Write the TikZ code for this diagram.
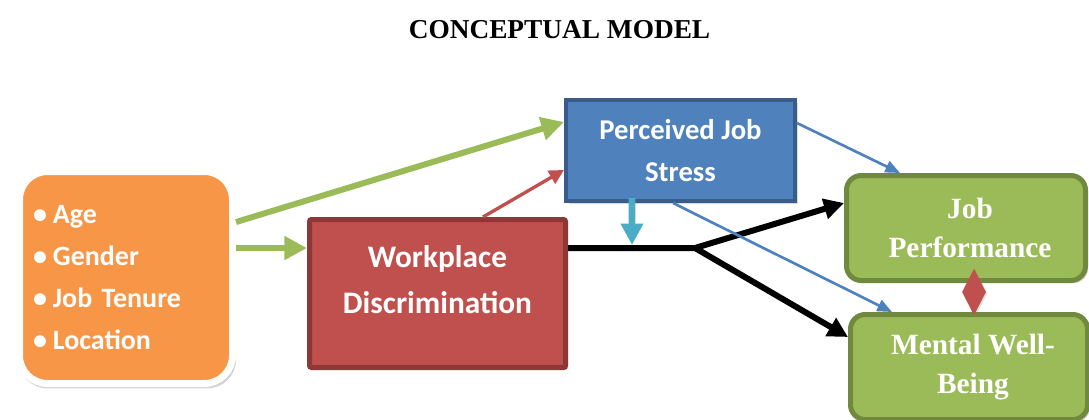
\documentclass[tikz,border=0pt]{standalone}
\usepackage{fontspec}
\setmainfont{Liberation Serif}
\newfontfamily\calibri{Carlito}
\usetikzlibrary{arrows.meta,shapes.geometric,shadows}
\definecolor{orng}{HTML}{F79646}
\definecolor{redfill}{HTML}{C0504D}
\definecolor{redline}{HTML}{8C3836}
\definecolor{bluefill}{HTML}{4F81BD}
\definecolor{blueline}{HTML}{385D8A}
\definecolor{grnfill}{HTML}{9BBB59}
\definecolor{grnline}{HTML}{71893F}
\definecolor{teal}{HTML}{4BACC6}
\tikzstyle{box} = [draw,line width=3.75pt,inner sep=0pt,text=white,align=center,
  drop shadow={opacity=0.3,shadow xshift=2pt,shadow yshift=-2pt}]
\tikzstyle{outcome} = [box,fill=grnfill,draw=grnline,rounded corners=11pt,
  minimum height=78.75pt,font=\fontsize{22}{29}\selectfont\bfseries]
\tikzstyle{cause} = [line width=4.5pt,-{Triangle[length=17pt,width=17pt]}]
\tikzstyle{thin} = [line width=2pt,-{Triangle[length=11pt,width=9pt]}]

\begin{document}
\begin{tikzpicture}[x=0.75pt,y=-0.75pt]
\clip (0,0) rectangle (1089,419);

\node[anchor=base,font=\fontsize{20.5}{24}\selectfont\bfseries] (title) at (559.5,38) {CONCEPTUAL MODEL};

\node[box,draw=white,line width=5.25pt,fill=orng,rounded corners=21pt,minimum width=159.75pt,
  minimum height=159pt,align=left,text width=139.5pt,
  drop shadow={opacity=0.35,shadow scale=1.02,shadow xshift=1pt,shadow yshift=-2pt},
  font=\calibri\fontsize{21}{31.5}\selectfont\bfseries] (traits) at (126,277.5)
  {•\hspace{4.5pt}Age\\•\hspace{4.5pt}Gender\\•\hspace{4.5pt}Job Tenure\\•\hspace{4.5pt}Location};
\node[box,fill=redfill,draw=redline,rounded corners=1.5pt,minimum width=192pt,minimum height=111pt,
  text depth=21pt,font=\calibri\fontsize{23.5}{34}\selectfont\bfseries] (wd) at (437.5,293.5)
  {Workplace\\Discrimination};
\node[box,fill=bluefill,draw=blueline,line width=3pt,minimum width=171.75pt,minimum height=75.75pt,
  font=\calibri\fontsize{21.5}{31.5}\selectfont\bfseries] (stress) at (680.5,150.5)
  {Perceived Job\\Stress};
\node[outcome,minimum width=179.25pt] (jp) at (966,228) {\hspace{6pt}Job\\\hspace{6pt}Performance};
\node[outcome,minimum width=177.75pt] (mw) at (969,367) {\hspace{6pt}Mental Well-\\\hspace{6pt}Being};

\coordinate (split) at (695,248);
\coordinate (hit) at (632,245);

\draw[cause,grnfill] ([yshift=41.6pt]traits.east) -- ([yshift=21.4pt]stress.west);
\draw[cause,grnfill] ([yshift=22.1pt]traits.east) -- ([yshift=34.1pt]wd.west);
\draw[line width=2.5pt,redfill,-{Triangle[length=11pt,width=11pt]}] ([xshift=34.1pt]wd.north) -- ([yshift=-14.6pt]stress.west);
\draw[line width=4.5pt] ([yshift=34.1pt]wd.east) -- (split);
\draw[cause,-{Triangle[length=15pt,width=15pt]}] (split) -- ([yshift=18.75pt]jp.west);
\draw[cause,-{Triangle[length=15pt,width=15pt]}] (split) -- ([yshift=22.5pt]mw.west);
\draw[line width=5pt,teal,-{Triangle[length=16pt,width=16pt]}] ([xshift=-36.4pt,yshift=3.75pt]stress.south) -- (hit);
\draw[thin,bluefill] ([yshift=20.6pt]stress.east) -- ([xshift=-49.5pt]jp.north);
\draw[thin,bluefill] ([xshift=-5.6pt]stress.south) -- ([xshift=-57.75pt]mw.north);

\node[diamond,fill=redfill,inner sep=0pt,minimum width=18pt,minimum height=35pt,
  drop shadow={opacity=0.25,shadow xshift=1pt,shadow yshift=-1pt}] (link) at (974,292) {};

\end{tikzpicture}
\end{document}
